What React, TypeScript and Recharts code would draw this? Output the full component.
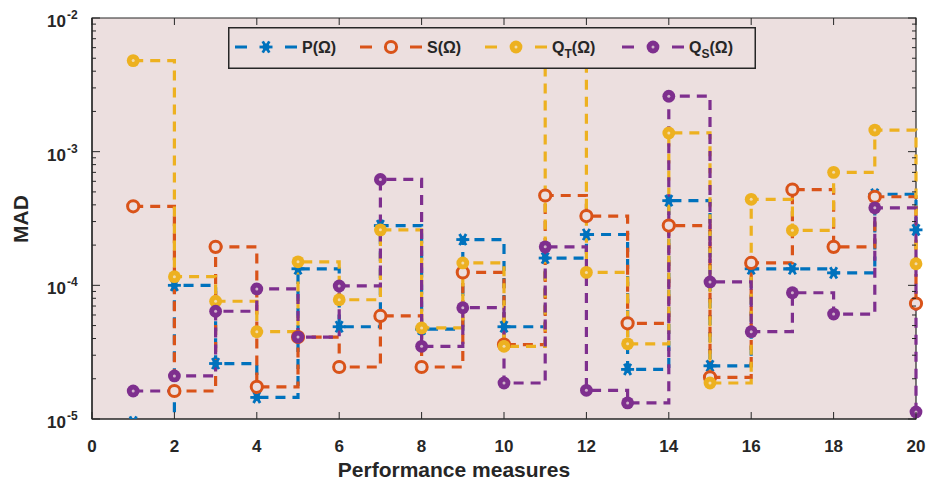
import { LineChart, Line, XAxis, YAxis, ReferenceArea } from 'recharts'

// performance measure index
const measures = [1, 2, 3, 4, 5, 6, 7, 8, 9, 10, 11, 12, 13, 14, 15, 16, 17, 18, 19, 20]

// mean absolute deviation per measure
const pOmega = [9.5e-6, 1.0e-4, 2.6e-5, 1.45e-5, 1.33e-4, 4.9e-5, 2.8e-4, 4.7e-5, 2.2e-4, 4.9e-5, 1.6e-4, 2.4e-4, 2.35e-5, 4.3e-4, 2.5e-5, 1.33e-4, 1.33e-4, 1.24e-4, 4.8e-4, 2.6e-4]
const sOmega = [3.9e-4, 1.62e-5, 1.94e-4, 1.74e-5, 4.1e-5, 2.45e-5, 5.9e-5, 2.45e-5, 1.25e-4, 3.6e-5, 4.7e-4, 3.3e-4, 5.2e-5, 2.8e-4, 2.05e-5, 1.47e-4, 5.2e-4, 1.94e-4, 4.6e-4, 7.3e-5]
const qtOmega = [4.8e-3, 1.16e-4, 7.6e-5, 4.5e-5, 1.5e-4, 7.8e-5, 2.6e-4, 4.8e-5, 1.47e-4, 3.5e-5, 6.0e-3, 1.25e-4, 3.65e-5, 1.38e-3, 1.86e-5, 4.4e-4, 2.58e-4, 7.0e-4, 1.45e-3, 1.45e-4]
const qsOmega = [1.62e-5, 2.1e-5, 6.4e-5, 9.4e-5, 4.1e-5, 9.9e-5, 6.2e-4, 3.5e-5, 6.8e-5, 1.86e-5, 1.94e-4, 1.64e-5, 1.32e-5, 2.6e-3, 1.06e-4, 4.5e-5, 8.8e-5, 6.1e-5, 3.8e-4, 1.13e-5]

const xTicks = [0, 2, 4, 6, 8, 10, 12, 14, 16, 18, 20]
const yTicks = [
  1e-5, 2e-5, 3e-5, 4e-5, 5e-5, 6e-5, 7e-5, 8e-5, 9e-5,
  1e-4, 2e-4, 3e-4, 4e-4, 5e-4, 6e-4, 7e-4, 8e-4, 9e-4,
  1e-3, 2e-3, 3e-3, 4e-3, 5e-3, 6e-3, 7e-3, 8e-3, 9e-3,
  1e-2,
]

const data = measures.map((m, i) => ({
  m,
  p: pOmega[i],
  s: sOmega[i],
  qt: qtOmega[i],
  qs: qsOmega[i],
}))

const W = 929
const H = 490
const PLOT_LEFT = 92
const PLOT_RIGHT = 916
const PLOT_TOP = 18
const PLOT_BOTTOM = 419

const BG = '#ecdfdf'
const INK = '#262626'
const FONT = '"Liberation Sans", Arial, Helvetica, sans-serif'

type Kind = 'star' | 'ring' | 'disc'

const series: { key: string; color: string; kind: Kind }[] = [
  { key: 'p', color: '#0072BD', kind: 'star' },
  { key: 's', color: '#D95319', kind: 'ring' },
  { key: 'qt', color: '#EDB120', kind: 'disc' },
  { key: 'qs', color: '#7E2F8E', kind: 'disc' },
]

function Marker({ cx, cy, kind, color }: { cx: number; cy: number; kind: Kind; color: string }) {
  if (kind === 'star') {
    return (
      <g stroke={color} strokeWidth={2.8}>
        <line x1={cx - 6.5} y1={cy} x2={cx + 6.5} y2={cy} />
        <line x1={cx - 3.3} y1={cy - 5.6} x2={cx + 3.3} y2={cy + 5.6} />
        <line x1={cx + 3.3} y1={cy - 5.6} x2={cx - 3.3} y2={cy + 5.6} />
        <circle cx={cx} cy={cy} r={3.5} fill={color} stroke="none" />
      </g>
    )
  }
  if (kind === 'ring') {
    return <circle cx={cx} cy={cy} r={5.6} fill={BG} stroke={color} strokeWidth={3} />
  }
  return (
    <g>
      <circle cx={cx} cy={cy} r={6.4} fill={color} />
      <circle cx={cx} cy={cy} r={1.5} fill="#f4ece6" opacity={0.7} />
    </g>
  )
}

const dotFor = (kind: Kind, color: string, name: string) => (props: any) => {
  const { cx, cy, index } = props
  if (cx == null || cy == null) return <g key={`${name}-${index}`} />
  return (
    <g key={`${name}-${index}`}>
      <Marker cx={cx} cy={cy} kind={kind} color={color} />
    </g>
  )
}

function XTick(props: any) {
  const { x, payload } = props
  return (
    <g>
      <line x1={x} y1={PLOT_BOTTOM} x2={x} y2={PLOT_BOTTOM - 7} stroke={INK} strokeWidth={1} />
      <line x1={x} y1={PLOT_TOP} x2={x} y2={PLOT_TOP + 7} stroke={INK} strokeWidth={1} />
      <text x={x} y={452} textAnchor="middle" fontFamily={FONT} fontWeight="bold" fontSize={17} fill={INK}>
        {payload.value}
      </text>
    </g>
  )
}

function YTick(props: any) {
  const { y, payload } = props
  const exp = Math.log10(payload.value)
  const major = Math.abs(exp - Math.round(exp)) < 1e-6
  const len = major ? 8 : 4
  return (
    <g>
      <line x1={PLOT_LEFT} y1={y} x2={PLOT_LEFT + len} y2={y} stroke={INK} strokeWidth={1} />
      <line x1={PLOT_RIGHT} y1={y} x2={PLOT_RIGHT - len} y2={y} stroke={INK} strokeWidth={1} />
      {major && (
        <g fontFamily={FONT} fontWeight="bold" fill={INK}>
          <text x={PLOT_LEFT - 26} y={y + 9} textAnchor="end" fontSize={17}>10</text>
          <text x={PLOT_LEFT - 25} y={y + 1} textAnchor="start" fontSize={12}>{Math.round(exp)}</text>
        </g>
      )}
    </g>
  )
}

function LegendBox() {
  const items = [
    { x: 235, color: '#0072BD', kind: 'star' as Kind, main: 'P', sub: '' },
    { x: 360, color: '#D95319', kind: 'ring' as Kind, main: 'S', sub: '' },
    { x: 485, color: '#EDB120', kind: 'disc' as Kind, main: 'Q', sub: 'T' },
    { x: 622, color: '#7E2F8E', kind: 'disc' as Kind, main: 'Q', sub: 'S' },
  ]
  const left = 228
  const top = 27
  return (
    <svg width={528} height={42} style={{ position: 'absolute', left, top }}>
      <rect x={0.75} y={0.75} width={526.5} height={40.5} fill={BG} stroke={INK} strokeWidth={1.5} />
      {items.map((it) => {
        const x0 = it.x - left
        const cy = 20
        return (
          <g key={it.main + it.sub}>
            <line x1={x0} y1={cy} x2={x0 + 12} y2={cy} stroke={it.color} strokeWidth={3} />
            <Marker cx={x0 + 31} cy={cy} kind={it.kind} color={it.color} />
            <line x1={x0 + 50} y1={cy} x2={x0 + 62} y2={cy} stroke={it.color} strokeWidth={3} />
            <text x={x0 + 67} y={cy + 6} fontFamily={FONT} fontWeight="bold" fontSize={16} fill={INK}>
              {it.main}
              {it.sub && (
                <tspan fontSize={12} dy={5}>{it.sub}</tspan>
              )}
              <tspan dy={it.sub ? -5 : 0}>(Ω)</tspan>
            </text>
          </g>
        )
      })}
    </svg>
  )
}

export default function App() {
  return (
    <div style={{ position: 'absolute', left: 0, top: 0, width: W, height: H, background: '#fff' }}>
      <LineChart width={W} height={H} data={data} margin={{ top: PLOT_TOP, right: W - PLOT_RIGHT, left: 0, bottom: 0 }}>
        <ReferenceArea x1={0} x2={20} y1={1e-5} y2={1e-2} fill={BG} fillOpacity={1} stroke={INK} strokeWidth={1.2} />
        <XAxis
          dataKey="m"
          type="number"
          domain={[0, 20]}
          ticks={xTicks}
          interval={0}
          height={H - PLOT_BOTTOM}
          tickLine={false}
          axisLine={{ stroke: INK, strokeWidth: 1.2 }}
          tick={<XTick />}
          label={{
            content: () => (
              <text x={454} y={477} textAnchor="middle" fontFamily={FONT} fontWeight="bold" fontSize={21} fill={INK}>
                Performance measures
              </text>
            ),
          }}
        />
        <YAxis
          type="number"
          scale="log"
          domain={[1e-5, 1e-2]}
          allowDataOverflow
          ticks={yTicks}
          interval={0}
          width={PLOT_LEFT}
          tickLine={false}
          axisLine={{ stroke: INK, strokeWidth: 1.2 }}
          tick={<YTick />}
          label={{
            content: () => (
              <text
                x={28}
                y={219}
                textAnchor="middle"
                transform="rotate(-90, 28, 219)"
                fontFamily={FONT}
                fontWeight="bold"
                fontSize={21}
                fill={INK}
              >
                MAD
              </text>
            ),
          }}
        />
        {series.map((s) => (
          <Line
            key={s.key}
            dataKey={s.key}
            type="stepAfter"
            stroke={s.color}
            strokeWidth={3.2}
            strokeDasharray="10 7"
            dot={dotFor(s.kind, s.color, s.key)}
            activeDot={false}
            isAnimationActive={false}
          />
        ))}
      </LineChart>
      <LegendBox />
    </div>
  )
}
